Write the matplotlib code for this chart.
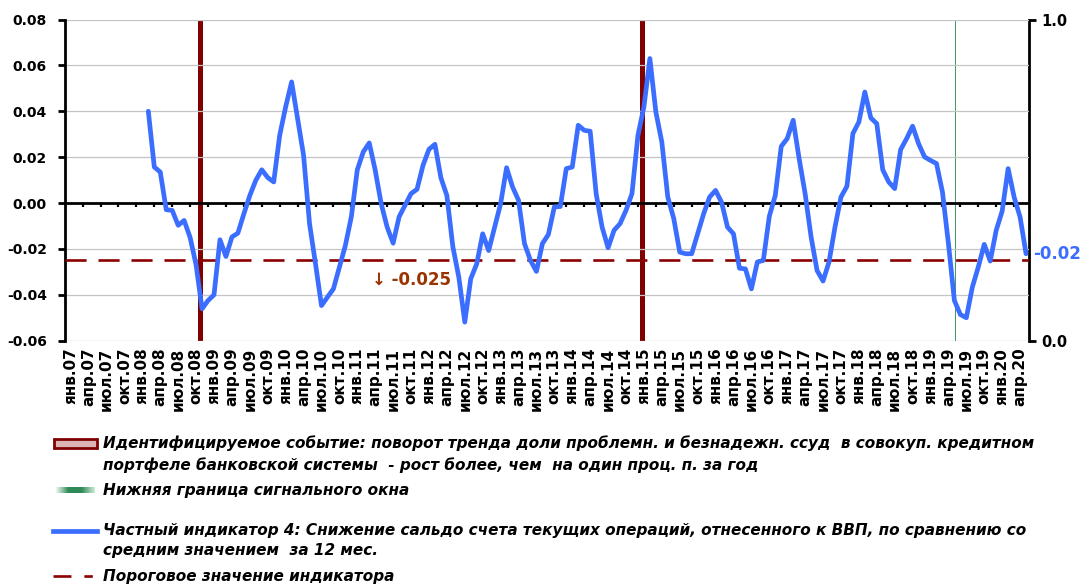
import numpy as np
import matplotlib
matplotlib.use("Agg")
import matplotlib.pyplot as plt
from matplotlib.patches import Rectangle
from matplotlib.lines import Line2D
from matplotlib.colors import LinearSegmentedColormap

plt.rcParams['font.family'] = ['DejaVu Sans']

# ---------------- data ----------------
months_ru = ['янв', 'фев', 'мар', 'апр', 'май', 'июн',
             'июл', 'авг', 'сен', 'окт', 'ноя', 'дек']
categories = [f"{months_ru[m]}.{y % 100:02d}" for y in range(2007, 2021) for m in range(12)][:161]

indicator_start = 'фев.08'
indicator = [
    0.0400, 0.0157, 0.0135, -0.0029, -0.0032, -0.0097, -0.0076, -0.0150, -0.0270, -0.0461,
    -0.0425, -0.0400, -0.0160, -0.0233, -0.0148, -0.0131, -0.0047, 0.0033, 0.0099, 0.0145,
    0.0111, 0.0092, 0.0295, 0.0419, 0.0528, 0.0368, 0.0208, -0.0090, -0.0265, -0.0447,
    -0.0410, -0.0374, -0.0280, -0.0185, -0.0060, 0.0145, 0.0223, 0.0262, 0.0143, -0.0003,
    -0.0105, -0.0175, -0.0060, -0.0010, 0.0041, 0.0060, 0.0164, 0.0234, 0.0256, 0.0110,
    0.0033, -0.0190, -0.0323, -0.0519, -0.0330, -0.0265, -0.0134, -0.0207, -0.0105, -0.0003,
    0.0154, 0.0070, 0.0012, -0.0177, -0.0250, -0.0298, -0.0177, -0.0137, -0.0017, -0.0015,
    0.0150, 0.0157, 0.0339, 0.0317, 0.0313, 0.0041, -0.0105, -0.0195, -0.0119, -0.0090,
    -0.0032, 0.0041, 0.0295, 0.0419, 0.0630, 0.0397, 0.0266, 0.0026, -0.0068, -0.0214,
    -0.0221, -0.0221, -0.0134, -0.0047, 0.0026, 0.0055, 0.0004, -0.0105, -0.0134, -0.0284,
    -0.0287, -0.0374, -0.0257, -0.0250, -0.0058, 0.0033, 0.0247, 0.0281, 0.0361, 0.0193,
    0.0041, -0.0148, -0.0294, -0.0340, -0.0257, -0.0105, 0.0026, 0.0073, 0.0303, 0.0353,
    0.0484, 0.0371, 0.0346, 0.0145, 0.0092, 0.0063, 0.0233, 0.0281, 0.0335, 0.0259,
    0.0201, 0.0186, 0.0172, 0.0048, -0.0177, -0.0425, -0.0486, -0.0500, -0.0367, -0.0279,
    -0.0180, -0.0253, -0.0119, -0.0035, 0.0150, 0.0026, -0.0061, -0.0221,
]
threshold = -0.025
event_months = ['ноя.08', 'янв.15']
window_months = ['май.19']
event_height = [1.0, 1.0]
window_height = [1.0]

y_ticks = [-0.06, -0.04, -0.02, 0.00, 0.02, 0.04, 0.06, 0.08]
y2_ticks = [0.0, 1.0]

legend_event = ["Идентифицируемое событие: поворот тренда доли проблемн. и безнадежн. ссуд  в совокуп. кредитном",
                "портфеле банковской системы  - рост более, чем  на один проц. п. за год"]
legend_window = ["Нижняя граница сигнального окна"]
legend_indicator = ["Частный индикатор 4: Снижение сальдо счета текущих операций, отнесенного к ВВП, по сравнению со",
                    "средним значением  за 12 мес."]
legend_threshold = ["Пороговое значение индикатора"]

# ---------------- styles ----------------
BLUE = '#3B6EFF'
DARKRED = '#800000'
DASHRED = '#8B0000'
GREEN = '#3F9F63'
BROWN = '#993300'

W, H = 1087, 585
fig = plt.figure(figsize=(W / 100, H / 100), dpi=100)


def fx(px):
    return px / W


def fy(py):
    return 1 - py / H


ax = fig.add_axes([fx(65), fy(340.7), fx(1028.5) - fx(65), fy(19.5) - fy(340.7)])
ax2 = ax.twinx()
ax.set_zorder(ax2.get_zorder() + 1)
ax.patch.set_visible(False)

n = len(categories)
start = categories.index(indicator_start)
x_ind = np.arange(start, start + len(indicator))

# event bars on secondary axis
ev_x = np.array([categories.index(m) for m in event_months]) - 0.2
ax2.bar(ev_x, event_height, width=0.85, color=DARKRED, zorder=2)
win_x = np.array([categories.index(m) for m in window_months]) + 0.15
ax2.bar(win_x, window_height, width=0.22, color=GREEN, linewidth=0, zorder=2)
ax2.set_ylim(0, 1)
ax2.set_yticks(y2_ticks)
ax2.set_yticklabels([f"{v:.1f}" for v in y2_ticks], fontsize=10.5, fontweight='bold')
ax2.tick_params(axis='y', direction='out', length=5, width=2, pad=4)

# main axis
ax.set_xlim(-0.955, 160.41)
ax.set_ylim(-0.06, 0.08)
ax.set_yticks(y_ticks)
ax.set_yticklabels([f"{v:.2f}" for v in y_ticks], fontsize=10, fontweight='bold')
ax.tick_params(axis='y', direction='out', length=5, width=2, pad=8)
ax.yaxis.grid(True, color='#c4c4c4', lw=0.9, zorder=0)
ax.set_axisbelow(True)

tick_idx = list(range(0, n, 3))
ax.set_xticks(tick_idx)
ax.set_xticklabels([categories[i] for i in tick_idx], rotation=90, fontsize=11,
                   fontweight='bold', va='top', ha='center')
ax.tick_params(axis='x', length=0, pad=5)

for s in ['top', 'bottom', 'right']:
    ax.spines[s].set_visible(False)
for s in ['top', 'bottom', 'left']:
    ax2.spines[s].set_visible(False)
ax.spines['left'].set_linewidth(2)
ax.spines['left'].set_color('black')
ax2.spines['right'].set_linewidth(2)
ax2.spines['right'].set_color('black')

# zero line with small tick marks
ax.axhline(0, color='black', lw=2, zorder=3)
minor_idx = np.arange(2, n, 3)
ax.plot(minor_idx, np.zeros(len(minor_idx)), ls='none', marker=3, markersize=3,
        markeredgewidth=1.6, color='black', zorder=3)

# threshold
ax.axhline(threshold, color=DASHRED, lw=1.9, ls=(0, (8, 4.5)), zorder=3)

# indicator line
ax.plot(x_ind, indicator, color=BLUE, lw=3.4, solid_joinstyle='round',
        solid_capstyle='round', zorder=4)

# annotations
ax.text(50.4, -0.0333, f"↓ {threshold:.3f}", color=BROWN, fontsize=12,
        fontweight='bold', ha='left', va='center', zorder=5)
ax.annotate(f"{indicator[-1]:.2f}", xy=(1, indicator[-1]), xycoords=('axes fraction', 'data'),
            xytext=(3.5, 0), textcoords='offset points', color=BLUE, fontsize=12,
            fontweight='bold', ha='left', va='center', annotation_clip=False)

# ---------------- legend (manual) ----------------
txt_kw = dict(fontsize=11, fontweight='bold', fontstyle='italic', va='center', ha='left')
TX = fx(103)
for text, y in zip(legend_event, [443, 465]):
    fig.text(TX, fy(y), text, **txt_kw)
fig.text(TX, fy(490), legend_window[0], **txt_kw)
for text, y in zip(legend_indicator, [531, 551]):
    fig.text(TX, fy(y), text, **txt_kw)
fig.text(TX, fy(576), legend_threshold[0], **txt_kw)

# event swatch
fig.add_artist(Rectangle((fx(54), fy(448)), fx(97) - fx(54), fy(439) - fy(448),
                         transform=fig.transFigure, facecolor='#dcb4b4',
                         edgecolor=DARKRED, lw=2))
# window swatch (gradient)
gax = fig.add_axes([fx(55), fy(493), fx(95) - fx(55), fy(487) - fy(493)])
cm = LinearSegmentedColormap.from_list('g', ['#ffffff', '#2e8b57', '#2e8b57', '#cfe8d8'])
gax.imshow(np.linspace(0, 1, 64)[None, :], aspect='auto', cmap=cm)
gax.axis('off')
# indicator swatch
fig.add_artist(Line2D([fx(53), fx(97)], [fy(531), fy(531)], transform=fig.transFigure,
                      color=BLUE, lw=3.4))
# threshold swatch
fig.add_artist(Line2D([fx(53), fx(96)], [fy(576), fy(576)], transform=fig.transFigure,
                      color=DASHRED, lw=1.9, ls=(0, (6.8, 4.9, 3.2, 40))))

fig.savefig('out.png', dpi=100)
